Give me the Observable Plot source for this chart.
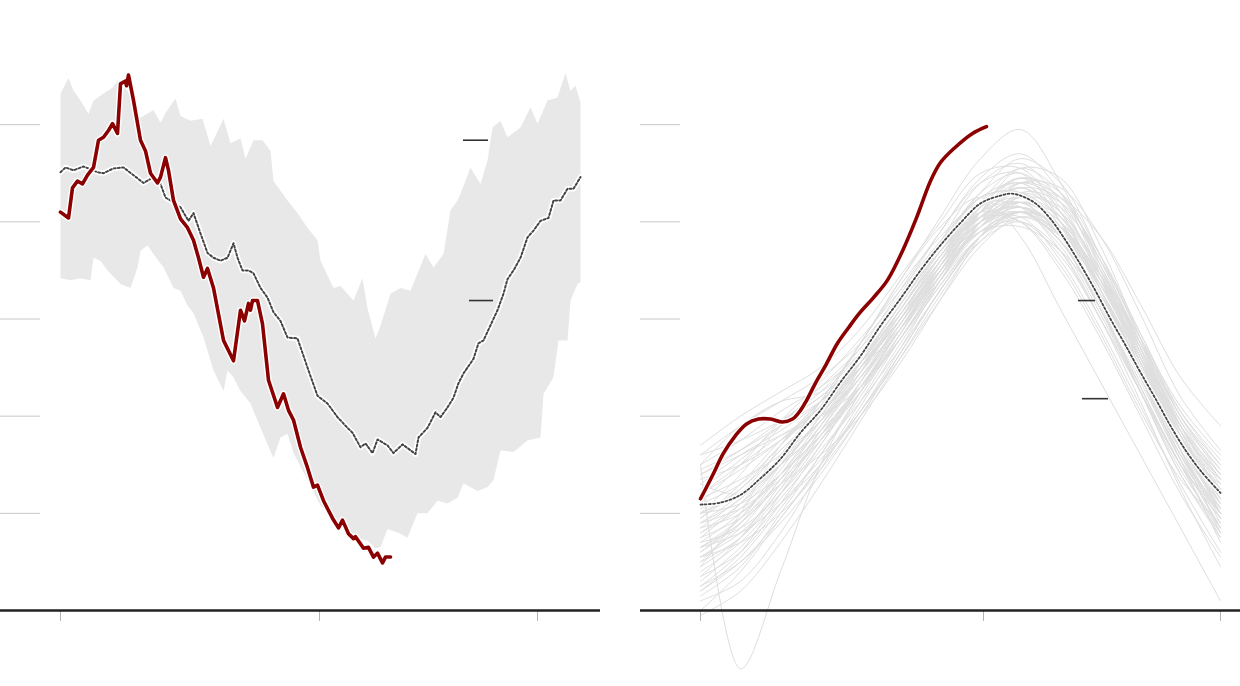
<!DOCTYPE html>
<html><head><meta charset="utf-8">
<script src="https://cdn.jsdelivr.net/npm/d3@7"></script>
<script src="https://cdn.jsdelivr.net/npm/@observablehq/plot@0.6"></script>
<style>
body{margin:0;background:#fff;font-family:Roboto,sans-serif}
#wrap{display:flex;gap:40px;width:1240px;height:686px}
svg{display:block}
</style></head><body><div id="wrap"></div>
<script>
// y grid values and x tick positions (weeks)
const gridValues = [100, 200, 300, 400, 500];
const leftTicks = [0, 25.9, 47.7];
const rightTicks = [0, 28.3, 52];

// LEFT PANEL: historical range (upper / lower), median, current year  [week, value]
const bandUpper = [[0,532],[0.8,548],[1.3,535],[2.0,525],[2.8,511],[3.3,525],[4.3,532],[5.2,538],[5.7,545],[6.7,535],[8.0,507],[9.3,515],[10.0,502],[10.5,512],[11.5,527],[12.0,509],[13.0,504],[14.2,506],[15.0,478],[16.3,506],[17.0,481],[18.0,486],[18.5,465],[19.3,484],[20.2,484],[21.0,473],[21.3,442],[22.7,422],[23.7,409],[24.7,394],[25.7,381],[26.0,360],[27.3,332],[28.0,334],[29.3,319],[30.2,342],[30.7,311],[31.5,280],[32.0,293],[33.0,326],[34.0,332],[35.0,329],[36.5,367],[37.3,353],[38.3,367],[39.0,412],[39.7,422],[40.0,429],[41.0,456],[42.0,439],[42.7,463],[43.2,497],[44.0,504],[44.7,487],[46.0,497],[47.0,518],[47.7,501],[48.7,525],[49.7,528],[50.5,553],[51.0,535],[51.5,540],[52.0,523]];
const bandLower = [[0,342],[1.0,340],[2.0,342],[3.0,340],[3.3,363],[4.0,360],[4.7,350],[6.0,336],[7.0,332],[7.7,353],[8.0,370],[8.7,376],[9.3,367],[10.3,353],[11.3,332],[12.0,329],[12.7,314],[13.3,306],[14.3,281],[15.3,247],[16.3,226],[16.7,247],[17.3,240],[18.0,226],[19.0,213],[20.0,188],[21.3,157],[22.0,178],[22.7,182],[23.3,162],[24.7,134],[26.0,108],[27.0,98],[28.3,85],[29.5,74],[30.7,72],[31.5,64],[32.0,65],[32.7,84],[34.0,79],[34.7,75],[35.7,100],[36.7,100],[37.7,113],[38.7,110],[39.7,116],[40.3,131],[41.7,123],[42.7,127],[43.3,134],[44.0,165],[45.3,163],[46.7,175],[48.0,178],[48.3,223],[49.3,240],[49.8,278],[50.7,278],[51.0,319],[51.7,336],[52.0,338]];
const leftMedian = [[0,451],[0.5,456],[1.3,453],[2.3,457],[3.7,451],[4.3,450],[5.3,455],[6.3,456],[7.3,448],[8.3,440],[9.3,446],[10.0,439],[10.5,425],[11.0,422],[12.0,415],[12.8,401],[13.3,409],[14.0,388],[14.7,368],[15.3,363],[16.0,360],[16.7,363],[17.3,378],[17.7,363],[18.2,350],[18.8,350],[19.3,347],[20.0,332],[20.7,322],[21.3,307],[22.0,298],[22.7,281],[23.7,280],[24.7,250],[25.7,221],[26.7,213],[27.7,199],[28.7,188],[29.2,183],[30.0,168],[30.5,172],[31.2,162],[31.7,176],[32.7,170],[33.3,162],[34.2,171],[35.5,161],[35.8,178],[36.7,188],[37.5,204],[38.0,199],[38.7,209],[39.3,219],[39.8,234],[40.3,244],[40.7,250],[41.3,259],[41.8,275],[42.3,278],[43.2,298],[43.7,309],[44.3,326],[44.7,341],[45.3,350],[46.0,363],[46.7,384],[47.3,391],[48.0,401],[48.8,404],[49.3,422],[50.0,422],[50.7,434],[51.3,434],[52.0,446]];
const leftCurrent = [[0,410],[0.8,404],[1.2,435],[1.7,442],[2.2,439],[2.7,448],[3.3,456],[3.8,484],[4.3,487],[4.8,494],[5.2,501],[5.7,491],[6.0,542],[6.5,545],[6.6,540],[6.8,551],[7.3,525],[8.0,484],[8.5,473],[9.0,450],[9.7,440],[10.0,446],[10.5,466],[10.8,453],[11.3,422],[12.0,403],[12.7,394],[13.3,381],[13.8,363],[14.3,343],[14.7,352],[15.3,332],[16.3,278],[17.3,257],[18.0,309],[18.4,298],[18.8,316],[19.0,309],[19.2,319],[19.7,319],[20.2,295],[20.8,237],[21.7,209],[22.3,223],[22.8,206],[23.3,196],[24.0,168],[24.7,147],[25.3,127],[25.7,129],[26.3,113],[27.2,95],[27.8,85],[28.2,93],[28.8,79],[29.3,74],[29.5,76],[30.3,64],[30.8,65],[31.3,55],[31.7,59],[32.2,49],[32.5,55],[33.0,55]];
const leftMarkers = [{x1: 40.3, x2: 42.8, y: 484}, {x1: 40.9, x2: 43.3, y: 319}];

// RIGHT PANEL: past years, mean, current year
const weeks = [0, 4, 8, 12, 16, 20, 24, 28, 32, 36, 40, 44, 48, 52];
const pastYears = [
  [80,105,150,195,250,305,360,405,420,385,320,240,160,100],
  [60,90,130,175,230,290,345,395,415,390,330,255,175,110],
  [110,130,170,210,255,310,370,420,440,400,325,250,170,120],
  [40,70,115,165,215,270,330,385,410,380,310,230,150,80],
  [130,160,185,215,260,315,375,430,450,415,345,265,190,140],
  [20,55,105,160,220,285,350,400,405,360,290,210,130,60],
  [90,120,165,200,240,300,365,410,425,395,335,270,190,130],
  [70,85,120,170,235,300,355,395,410,375,305,225,140,75],
  [150,175,205,230,265,320,380,440,460,420,340,255,175,125],
  [0,40,95,150,205,265,330,385,420,405,350,270,180,100],
  [100,140,190,230,270,320,370,405,400,355,285,205,135,90],
  [55,80,125,185,245,310,370,415,435,410,350,280,200,145],
  [120,150,180,205,245,295,350,395,415,395,345,280,210,160],
  [30,65,110,155,205,260,320,375,405,390,330,250,165,90],
  [85,100,140,190,240,295,355,410,445,430,365,280,195,135],
  [140,165,195,225,270,330,390,440,450,400,315,230,150,95],
  [65,95,145,200,250,300,355,400,420,400,340,260,170,105],
  [105,120,155,195,245,305,365,415,430,390,310,225,145,85],
  [45,75,125,180,230,280,340,395,425,405,345,265,180,115],
  [95,130,175,210,250,300,350,390,395,370,320,255,185,135],
  [150,-60,40,150,225,290,350,400,420,395,330,250,165,100],
  [90,115,160,215,275,340,405,465,495,440,350,260,175,115],
  [60,95,150,210,275,340,395,425,385,310,235,160,85,10],
  [100,125,165,205,255,310,365,410,435,425,385,315,240,190],
  [160,190,215,240,275,325,380,425,430,390,320,245,170,130],
  [150,190,215,225,265,320,370,410,420,385,320,245,165,110],
  [25,50,90,140,200,265,330,380,400,370,300,215,125,45],
  [75,110,160,215,275,335,385,420,415,370,300,225,150,95],
  [115,135,160,195,240,290,345,395,425,415,360,285,205,150],
  [50,75,120,175,235,295,360,420,455,430,355,265,175,105],
  [10,30,80,145,210,275,335,385,410,385,320,240,155,70],
  [135,150,175,205,250,305,360,400,410,380,325,260,190,140],
  [85,115,150,185,230,285,345,400,440,425,360,270,180,120],
  [65,90,135,190,250,310,365,405,415,385,325,250,165,95],
  [100,110,140,180,230,290,355,415,445,410,330,240,155,100],
  [35,60,110,170,230,290,350,400,415,380,310,235,155,85],
  [125,155,190,220,255,300,355,410,440,420,355,275,195,145],
  [70,100,140,180,225,280,345,405,430,395,315,225,140,80],
  [55,85,135,190,245,300,350,390,410,395,345,275,190,120],
  [95,125,170,215,260,305,360,410,435,400,330,245,160,105],
  [170,200,225,250,290,345,400,450,455,410,330,250,175,135],
  [15,45,100,160,225,290,345,390,400,365,300,225,150,75],
  [130,120,150,200,255,315,375,425,440,405,335,260,180,125],
  [45,100,170,215,250,290,340,385,405,385,335,265,185,120],
  [75,95,130,160,200,255,320,385,430,420,365,285,200,140],
  [-5,20,70,130,195,260,325,380,410,395,335,255,165,80],
  [110,150,195,235,280,330,380,425,430,385,310,230,150,100],
  [140,160,180,200,230,280,340,400,440,435,385,305,220,165],
  [50,90,140,195,255,315,370,410,400,350,280,200,120,55],
  [90,105,135,175,225,285,350,410,455,445,375,280,185,115],
  [25,60,120,180,235,290,345,395,420,400,340,260,175,100],
  [160,175,195,220,260,315,375,430,465,440,365,280,200,150],
  [65,80,110,150,205,270,340,400,425,390,320,245,165,100],
  [120,145,175,210,255,310,365,405,415,390,340,275,205,155],
  [35,75,130,185,240,295,355,405,430,410,350,270,185,110],
  [100,120,150,185,230,280,335,385,410,395,345,270,190,125],
  [80,110,150,200,260,325,390,445,470,430,345,255,170,110],
  [55,70,100,145,200,265,330,385,410,395,340,265,180,115],
  [145,165,190,215,250,300,360,415,445,425,360,275,190,135],
  [20,50,95,150,215,280,340,390,410,380,315,240,160,85]
];
const rightMean = [[0,109],[2,111],[4,119],[6,136],[8,156],[10,183],[12,206],[14,235],[16,262],[18,293],[20,321],[22,350],[24,376],[26,399],[28,419],[30,427],[31,429],[32,427],[33.5,419],[35,403],[36.5,381],[38,356],[39.5,329],[41,300],[42.5,273],[44,245],[45.5,218],[47,190],[48.5,165],[50,144],[52,121]];
const rightCurrent = [[0,115],[1.2,139],[2.3,162],[3.5,180],[4.6,192],[5.8,197],[7.0,197],[8.2,194],[9.2,197],[10.0,206],[10.6,216],[11.5,234],[12.5,252],[13.7,275],[14.8,291],[15.9,306],[17.3,322],[18.7,340],[20.2,370],[21.6,404],[23.0,442],[24.0,461],[25.4,476],[27.2,491],[28.6,498]];
const rightMarkers = [{x1: 37.8, x2: 39.5, y: 319}, {x1: 38.2, x2: 40.8, y: 218}];

const RED = "#8b0000";
const BAND = "#e8e8e8";

function panel(ticks, marks) {
  return Plot.plot({
    width: 600, height: 686,
    marginLeft: 60, marginRight: 20, marginTop: 27, marginBottom: 76,
    x: {domain: [0, 52]},
    y: {domain: [0, 600], axis: null},
    marks: [
      ...marks,
      Plot.ruleY(gridValues, {stroke: "#c8c8c8", strokeWidth: 1, insetLeft: -60, insetRight: 540}),
      Plot.axisX({ticks, tickSize: 11, tickFormat: () => "", stroke: "#b4b4b4", label: null}),
      Plot.ruleY([0], {stroke: "#222", strokeWidth: 2.5, insetLeft: -60, insetRight: -20})
    ]
  });
}

const bandPolygon = bandUpper.concat(bandLower.slice().reverse());
const dotted = {stroke: "#444", strokeWidth: 2, strokeDasharray: "2 2.2"};
const halo = {stroke: "#fff", strokeWidth: 5.5, strokeLinejoin: "round"};

const left = panel(leftTicks, [
  Plot.line(bandPolygon, {x: d => d[0], y: d => d[1], fill: BAND, stroke: "none"}),
  Plot.line(leftMedian, {x: d => d[0], y: d => d[1], ...halo}),
  Plot.line(leftMedian, {x: d => d[0], y: d => d[1], ...dotted}),
  Plot.line(leftCurrent, {x: d => d[0], y: d => d[1], stroke: "#fff", strokeWidth: 6.5, strokeLinejoin: "round", strokeLinecap: "round"}),
  Plot.line(leftCurrent, {x: d => d[0], y: d => d[1], stroke: RED, strokeWidth: 3.6, strokeLinejoin: "round", strokeLinecap: "round"}),
  Plot.ruleY(leftMarkers, {y: "y", x1: "x1", x2: "x2", stroke: "#333", strokeWidth: 1.6})
]);

const pastTable = pastYears.flatMap((vals, i) => vals.map((v, j) => ({w: weeks[j], v, id: i})));

const right = panel(rightTicks, [
  Plot.line(pastTable, {x: "w", y: "v", z: "id", stroke: "#dedede", strokeWidth: 1, curve: "catmull-rom"}),
  Plot.line(rightMean, {x: d => d[0], y: d => d[1], ...halo, strokeWidth: 4.5, curve: "catmull-rom"}),
  Plot.line(rightMean, {x: d => d[0], y: d => d[1], ...dotted, strokeWidth: 1.8, curve: "catmull-rom"}),
  Plot.line(rightCurrent, {x: d => d[0], y: d => d[1], stroke: "#fff", strokeWidth: 6, curve: "catmull-rom", strokeLinecap: "round"}),
  Plot.line(rightCurrent, {x: d => d[0], y: d => d[1], stroke: RED, strokeWidth: 3.6, curve: "catmull-rom", strokeLinecap: "round"}),
  Plot.ruleY(rightMarkers, {y: "y", x1: "x1", x2: "x2", stroke: "#333", strokeWidth: 1.6})
]);

const wrap = document.getElementById("wrap");
wrap.appendChild(left);
wrap.appendChild(right);
</script></body></html>
